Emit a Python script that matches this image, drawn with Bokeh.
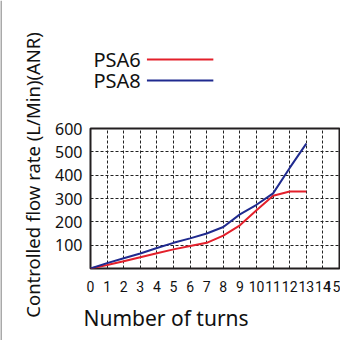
import math
from bokeh.plotting import figure
from bokeh.models import FixedTicker, Range1d, Title
from bokeh.layouts import row, column
from bokeh.core.properties import value
from bokeh.embed import file_html
from bokeh.resources import INLINE

turns = [0, 1, 2, 3, 4, 5, 6, 7, 8, 9, 10, 11, 12, 13]
psa6 = [0, 15, 31, 48, 65, 82, 96, 110, 141, 185, 250, 312, 330, 330]
psa8 = [0, 23, 44, 64, 88, 110, 129, 150, 178, 232, 273, 322, 431, 535]
x_ticks = list(range(0, 16))
y_ticks = [100, 200, 300, 400, 500, 600]
series_names = ["PSA6", "PSA8"]
series_colors = ["#e3202b", "#1f2a8f"]
y_title = "Controlled flow rate  (L/Min)(ANR)"
x_title = "Number of turns"

TXT = "#111111"
BOX = "#555555"

# ---------- main chart ----------
p = figure(width=288, height=238, output_backend="svg", toolbar_location=None,
           x_range=Range1d(0, 15), y_range=Range1d(0, 600),
           min_border_left=30, min_border_right=1, min_border_top=26, min_border_bottom=72)
p.outline_line_color = "#231f20"
p.outline_line_width = 2
p.outline_line_alpha = 1

p.xaxis.ticker = FixedTicker(ticks=x_ticks)
p.yaxis.ticker = FixedTicker(ticks=y_ticks)
for ax in (p.xaxis, p.yaxis):
    ax.axis_line_color = None
    ax.major_tick_line_color = None
    ax.minor_tick_line_color = None
    ax.major_label_text_color = TXT
p.xaxis.major_label_text_font = "Roboto"
p.xaxis.major_label_text_font_size = "14px"
p.xaxis.major_label_standoff = 6
p.yaxis.major_label_text_font = "Noto Sans"
p.yaxis.major_label_text_font_size = "16px"
p.yaxis.major_label_standoff = 2

p.xgrid.ticker = FixedTicker(ticks=x_ticks)
p.ygrid.ticker = FixedTicker(ticks=y_ticks)
for g in (p.xgrid, p.ygrid):
    g.grid_line_color = "#222222"
    g.grid_line_dash = "3 2"
    g.grid_line_width = 1

p.line(turns, psa6, line_color=series_colors[0], line_width=2)
p.line(turns, psa8, line_color=series_colors[1], line_width=2)

p.add_layout(Title(text=x_title, align="left", offset=-7, standoff=14, text_font="Noto Sans",
                   text_font_size="21px", text_font_style="normal", text_color=TXT), "below")

# ---------- legend strip (label on the left, line on the right), shares the chart's x scale ----------
lg = figure(width=288, height=102, output_backend="svg", toolbar_location=None,
            x_range=p.x_range, y_range=Range1d(102, 0),
            x_axis_type=None, y_axis_type=None, min_border=0)
lg.grid.visible = False
lg.outline_line_color = None
leg_y = [59, 80]
lg.text(x=[0.18, 0.18], y=leg_y, text=series_names, text_align="left", text_baseline="middle",
        text_font=value("Noto Sans"), text_font_size="20px", text_color=TXT)
lg.segment(x0=[3.4, 3.4], y0=leg_y, x1=[7.4, 7.4], y1=leg_y, line_color=series_colors, line_width=2)

# ---------- y title strip ----------
yt = figure(width=52, height=340, output_backend="svg", toolbar_location=None,
            x_range=Range1d(0, 52), y_range=Range1d(340, 0),
            x_axis_type=None, y_axis_type=None, min_border=0)
yt.grid.visible = False
yt.outline_line_color = None
yt.text(x=[32], y=[172], text=[y_title], angle=math.pi / 2, text_align="center", text_baseline="middle",
        text_font=value("Noto Sans"), text_font_size="18.5px", text_color=TXT)
yt.segment(x0=[0.5], y0=[0], x1=[0.5], y1=[340], line_color=BOX, line_width=1)

layout = row(yt, column(lg, p))

open("out.html", "w").write(file_html(layout, INLINE))
